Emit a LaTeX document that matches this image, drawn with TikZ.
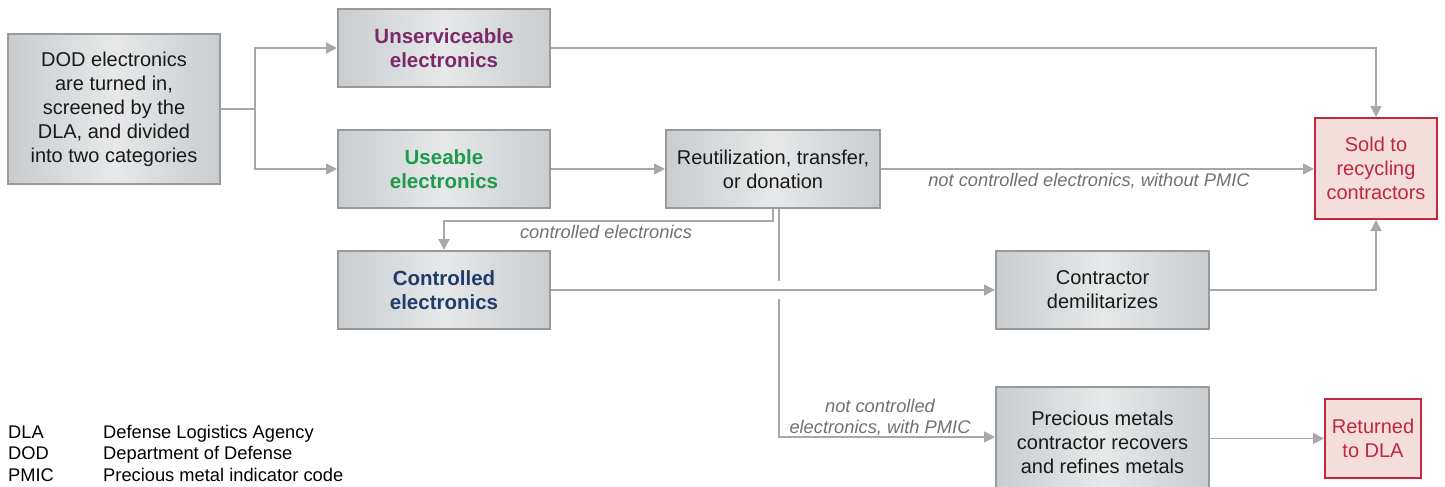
\documentclass[tikz,border=0pt]{standalone}
\usepackage{fontspec}
\setmainfont{Liberation Sans}
\usetikzlibrary{arrows.meta,calc}
\definecolor{linegray}{HTML}{A8A8A8}
\definecolor{boxborder}{HTML}{9A9A9A}
\definecolor{boxedge}{HTML}{C9CDD0}
\definecolor{boxmid}{HTML}{E6E8E9}
\definecolor{purp}{HTML}{7A2A68}
\definecolor{grn}{HTML}{1E9A4A}
\definecolor{navy}{HTML}{1F3C6C}
\definecolor{redd}{HTML}{C0283C}
\definecolor{pinkf}{HTML}{F3DEDC}
\definecolor{labgray}{HTML}{707070}
\tikzset{
  box/.style={draw=boxborder, line width=2pt, left color=boxedge, right color=boxedge, middle color=boxmid,
    minimum width=212pt, minimum height=78pt, align=center, inner sep=1pt,
    font=\fontsize{20}{24}\selectfont, text=black!90},
  boldbox/.style={box, font=\fontsize{20.5}{24}\selectfont\bfseries},
  redbox/.style={draw=redd, line width=2pt, fill=pinkf, align=center, inner sep=1pt,
    font=\fontsize{20}{24}\selectfont, text=redd},
  conn/.style={draw=linegray, line width=1.5pt, -{Triangle[length=11pt,width=11pt]}},
  plain/.style={draw=linegray, line width=1.5pt},
  lab/.style={font=\fontsize{18.3}{21}\selectfont\itshape, text=labgray, align=center, inner sep=0pt},
  leg/.style={font=\fontsize{18.3}{21}\selectfont, text=black, anchor=base west, inner sep=0pt}
}
\begin{document}
\begin{tikzpicture}[x=1pt,y=-1pt]
\useasboundingbox (0,0) rectangle (1445,487);
\node[box, minimum height=150pt] (dod) at (114,109) {DOD electronics\\are turned in,\\screened by the\\DLA, and divided\\into two categories};
\node[boldbox, text=purp] (unserv) at (444,48) {Unserviceable\\electronics};
\node[boldbox, text=grn] (use) at (444,169) {Useable\\electronics};
\node[box, minimum width=214pt] (reut) at (773,169) {Reutilization, transfer,\\or donation};
\node[boldbox, text=navy] (ctrl) at (444,290) {Controlled\\electronics};
\node[box, minimum width=213pt] (demil) at (1102.5,290) {Contractor\\demilitarizes};
\node[box, minimum width=213pt, minimum height=110pt] (prec) at (1102.5,442) {Precious metals\\contractor recovers\\and refines metals};
\node[redbox, minimum width=122pt, minimum height=101pt] (sold) at (1376,168.5) {Sold to\\recycling\\contractors};
\node[redbox, minimum width=96pt, minimum height=79pt] (ret) at (1373,438.5) {Returned\\to DLA};

\coordinate (split) at (255,109);
\draw[plain] (dod.east) -- (split);
\draw[conn] (split) |- (unserv.west);
\draw[conn] (split) |- (use.west);
\draw[conn] (unserv.east) -| (sold.north);
\draw[conn] (use.east) -- (reut.west);
\draw[conn] (reut.east) -- (reut.east -| sold.west);
\node[lab] (l1) at (1089,181) {not controlled electronics, without PMIC};
\coordinate (c1) at (773,221);
\draw[conn] (reut.south) -- (c1) -| (ctrl.north);
\node[lab] (l2) at (606,232) {controlled electronics};
\coordinate (c2top) at ($(reut.south)+(6,0)$);
\coordinate (c2) at (779,437);
\draw[conn] (c2top) -- (c2) -- (c2 -| prec.west);
\fill[white] (771,281) rectangle (787,299);
\draw[conn] (ctrl.east) -- (demil.west);
\node[lab] (l3) at (880,418) {not controlled\\electronics, with PMIC};
\draw[conn] (demil.east) -| (sold.south);
\draw[conn] (prec.east |- ret.west) -- (ret.west);

\node[leg] (a1) at (8,438) {DLA};
\node[leg] (b1) at (103,438) {Defense Logistics Agency};
\node[leg] (a2) at (8,459.5) {DOD};
\node[leg] (b2) at (103,459.5) {Department of Defense};
\node[leg] (a3) at (8,481) {PMIC};
\node[leg] (b3) at (103,481) {Precious metal indicator code};
\end{tikzpicture}
\end{document}
